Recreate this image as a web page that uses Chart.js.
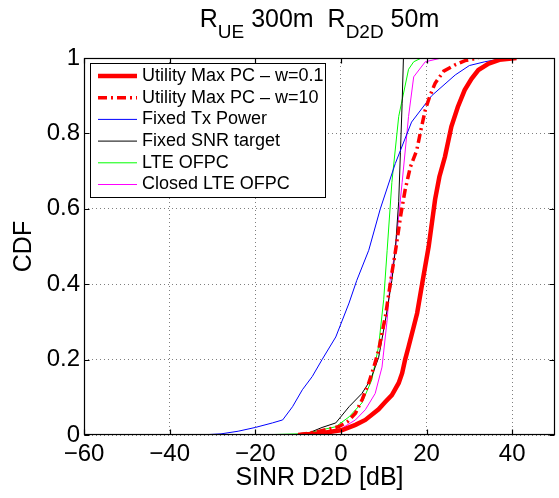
<!DOCTYPE html>
<html>
<head>
<meta charset="utf-8">
<script src="https://cdn.jsdelivr.net/npm/chart.js@4.4.0/dist/chart.umd.min.js"></script>
<style>
  body { margin: 0; background: #fff; }
  #wrap { position: relative; width: 559px; height: 498px; }
  #myChart { display: block; }
  #title { position: absolute; left: 84px; width: 471px; top: 6px; text-align: center;
           font: 25px/25px "Liberation Sans", Arial, sans-serif; white-space: pre; color: #000; }
  #title span { font-size: 19px; position: relative; top: 11px; }
</style>
</head>
<body>
<div id="wrap">
  <canvas id="myChart" width="559" height="498"></canvas>
  <div id="title">R<span>UE</span> 300m  R<span>D2D</span> 50m</div>
</div>
<script>
// series (SINR in dB, CDF)
const labels = ['Utility Max PC \u2013 w=0.1', 'Utility Max PC \u2013 w=10', 'Fixed Tx Power',
                'Fixed SNR target', 'LTE OFPC', 'Closed LTE OFPC'];

const umW01X = [-10, -5, 0.3, 3.4, 5.7, 8.8, 10.4, 11.9, 13.5, 14.3, 15, 15.8, 17, 17.8, 19, 20.5, 22, 23, 24.3, 25.8, 27.3, 28.9, 30.5, 32.1, 34.5, 37, 41];
const umW01Y = [0, 0.004, 0.013, 0.027, 0.04, 0.068, 0.088, 0.106, 0.138, 0.164, 0.2, 0.234, 0.287, 0.323, 0.403, 0.5, 0.625, 0.685, 0.738, 0.818, 0.87, 0.915, 0.945, 0.968, 0.985, 0.995, 1];

const umW10X = [-10, -5, -0.5, 1.5, 3.4, 5, 6.5, 7.7, 8.8, 10.4, 11.9, 12.5, 13.1, 14, 15, 16.2, 17.7, 18.7, 19.7, 20.8, 22, 24, 26.7, 29, 32.1];
const umW10Y = [0, 0.01, 0.022, 0.035, 0.058, 0.095, 0.138, 0.18, 0.225, 0.315, 0.43, 0.47, 0.515, 0.585, 0.65, 0.71, 0.755, 0.81, 0.862, 0.9, 0.933, 0.965, 0.982, 0.993, 1];

const fixedTxX = [-33, -28, -24, -20, -16, -13.6, -11.3, -9, -6.7, -4.4, -1.2, 1.9, 3.7, 6.5, 9.2, 12.7, 16.5, 21.2, 26.7, 30, 33.6, 37, 41];
const fixedTxY = [0, 0.003, 0.01, 0.02, 0.032, 0.04, 0.075, 0.12, 0.155, 0.2, 0.26, 0.35, 0.41, 0.49, 0.6, 0.72, 0.83, 0.9, 0.955, 0.98, 0.99, 0.997, 1];

const fixedSnrX = [-10, -7.4, -4.4, -1.2, 1.9, 4.9, 6.9, 8.8, 10.4, 11.9, 12.7, 13.5, 13.9, 14.3, 14.6];
const fixedSnrY = [0, 0.006, 0.02, 0.032, 0.075, 0.11, 0.146, 0.205, 0.305, 0.41, 0.49, 0.62, 0.75, 0.88, 1];

const lteX = [-20, -10, -6.7, -1.2, 1.9, 4.9, 7.2, 8.8, 10, 10.8, 11.9, 13.5, 15.8, 17, 18.8];
const lteY = [0, 0.003, 0.008, 0.022, 0.048, 0.085, 0.146, 0.235, 0.36, 0.49, 0.67, 0.845, 0.97, 0.99, 1];

const closedLteX = [-8, -4, -1.2, 3.4, 5.7, 8, 9.6, 10.8, 11.5, 12.7, 14.3, 15.8, 17, 19.7, 23.5];
const closedLteY = [0, 0.004, 0.008, 0.04, 0.067, 0.11, 0.18, 0.305, 0.41, 0.49, 0.67, 0.845, 0.95, 0.99, 1];

const xTicks = [-60, -40, -20, 0, 20, 40];
const yTicks = [0, 0.2, 0.4, 0.6, 0.8, 1];

const FONT = '"Liberation Sans", Arial, sans-serif';
Chart.defaults.font.family = FONT;
Chart.defaults.color = '#000';

function pts(xs, ys) {
    return xs.map((x, i) => ({ x: x, y: ys[i] }));
}

function line(label, xs, ys, color, width, dash) {
    return {
        label: label,
        data: pts(xs, ys),
        borderColor: color,
        borderWidth: width,
        borderDash: dash || [],
        pointRadius: 0,
        tension: 0,
        fill: false
    };
}

// legend box inside the axes, top left
const boxLegend = {
    id: 'boxLegend',
    afterDatasetsDraw(chart) {
        const c = chart.ctx;
        const a = chart.chartArea;
        const left = a.left + 6, top = a.top + 5, w = 235, h = 134;
        c.save();
        c.fillStyle = '#fff';
        c.fillRect(left, top, w, h);
        c.strokeStyle = '#000';
        c.lineWidth = 1;
        c.strokeRect(left + 0.5, top + 0.5, w, h);
        c.font = '18px ' + FONT;
        c.textBaseline = 'middle';
        chart.data.datasets.forEach((ds, i) => {
            const y = top + 13 + i * 21.7;
            c.beginPath();
            c.strokeStyle = ds.borderColor;
            c.lineWidth = ds.borderWidth;
            c.setLineDash(ds.borderDash);
            c.moveTo(left + 8, y);
            c.lineTo(left + 47, y);
            c.stroke();
            c.setLineDash([]);
            c.fillStyle = '#000';
            c.fillText(ds.label, left + 52, y);
        });
        c.restore();
    }
};

// box around the axes with inward ticks on all four sides
const frame = {
    id: 'frame',
    afterDraw(chart) {
        const c = chart.ctx;
        const a = chart.chartArea;
        const L = Math.round(a.left) + 0.5, R = Math.round(a.right) - 0.5;
        const T = Math.round(a.top) + 0.5, B = Math.round(a.bottom) - 0.5;
        c.save();
        c.strokeStyle = '#000';
        c.lineWidth = 1.2;
        c.strokeRect(L, T, R - L, B - T);
        c.beginPath();
        xTicks.forEach(v => {
            const px = Math.round(chart.scales.x.getPixelForValue(v)) + 0.5;
            c.moveTo(px, B); c.lineTo(px, B - 5);
            c.moveTo(px, T); c.lineTo(px, T + 5);
        });
        yTicks.forEach(v => {
            const py = Math.round(chart.scales.y.getPixelForValue(v)) + 0.5;
            c.moveTo(L, py); c.lineTo(L + 5, py);
            c.moveTo(R, py); c.lineTo(R - 5, py);
        });
        c.stroke();
        c.restore();
    }
};

const ctx = document.getElementById('myChart');

new Chart(ctx, {
    type: 'line',
    data: {
        datasets: [
            line(labels[0], umW01X, umW01Y, '#ff0000', 4.5),
            line(labels[1], umW10X, umW10Y, '#ff0000', 3.5, [9, 4, 2, 4]),
            line(labels[2], fixedTxX, fixedTxY, '#0000ff', 1),
            line(labels[3], fixedSnrX, fixedSnrY, '#000000', 1),
            line(labels[4], lteX, lteY, '#00ff00', 1),
            line(labels[5], closedLteX, closedLteY, '#ff00ff', 1)
        ]
    },
    options: {
        responsive: false,
        animation: false,
        devicePixelRatio: 1,
        layout: {
            padding: { top: 58, right: 4, left: 0, bottom: 0 }
        },
        plugins: {
            legend: { display: false },
            tooltip: { enabled: false }
        },
        scales: {
            x: {
                type: 'linear',
                min: -60,
                max: 50,
                afterFit: s => { s.height = 63; },
                afterBuildTicks: s => { s.ticks = xTicks.map(v => ({ value: v })); },
                ticks: {
                    font: { size: 24 },
                    padding: 5,
                    maxRotation: 0,
                    callback: v => v < 0 ? '\u2212' + Math.abs(v) : String(v)
                },
                grid: { color: 'rgba(0,0,0,0.5)', drawTicks: false },
                border: { display: false, dash: [1, 3] },
                title: {
                    display: true,
                    text: 'SINR D2D [dB]',
                    font: { size: 25 },
                    padding: { top: 0, bottom: 5 }
                }
            },
            y: {
                min: 0,
                max: 1,
                afterFit: s => { s.width = 84; },
                afterBuildTicks: s => { s.ticks = yTicks.map(v => ({ value: v })); },
                ticks: {
                    font: { size: 24 },
                    padding: 4,
                    callback: v => String(v)
                },
                grid: { color: 'rgba(0,0,0,0.5)', drawTicks: false },
                border: { display: false, dash: [1, 3] },
                title: {
                    display: true,
                    text: 'CDF',
                    font: { size: 25 },
                    padding: { top: 9, bottom: 0 }
                }
            }
        }
    },
    plugins: [boxLegend, frame]
});
</script>
</body>
</html>
